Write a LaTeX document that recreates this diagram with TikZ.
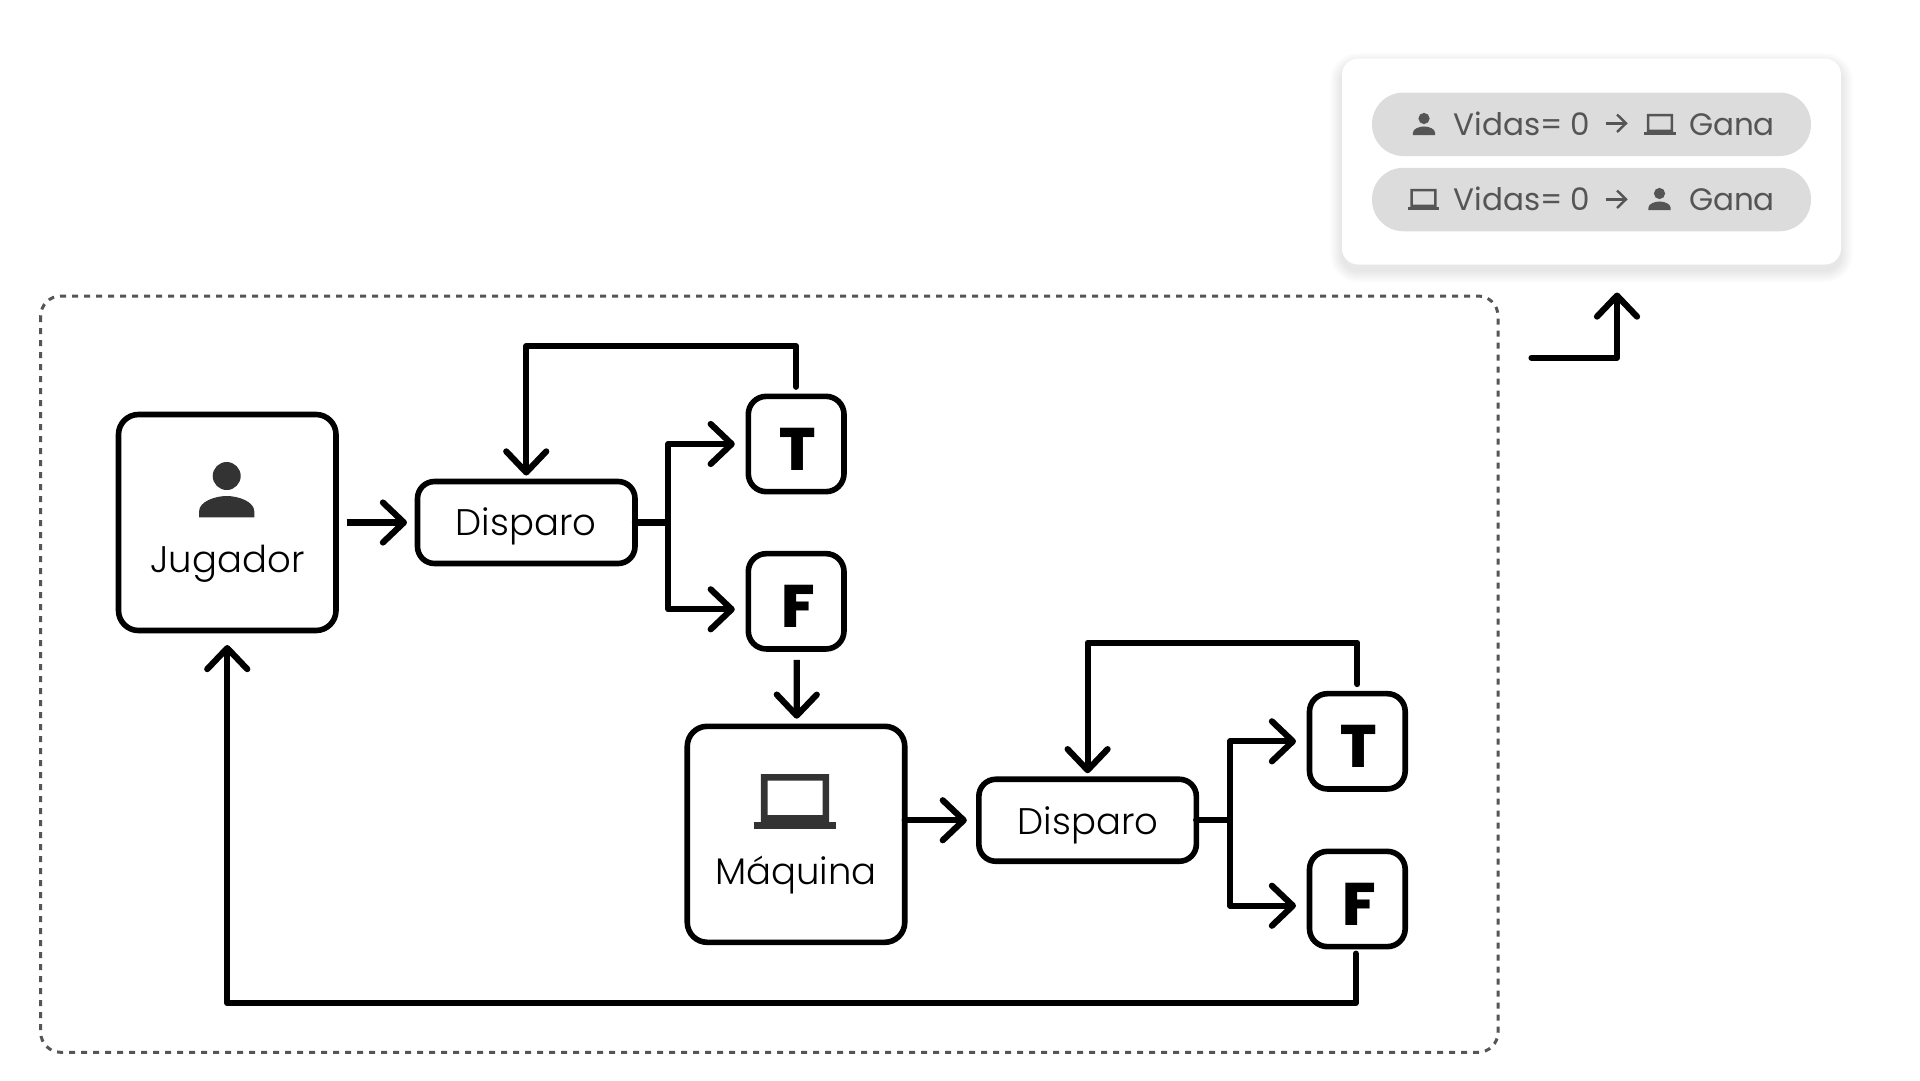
\documentclass[tikz,border=0pt]{standalone}
\usepackage{fontspec}
\newfontfamily\plight{Poppins Light}
\newfontfamily\preg{Poppins}
\newfontfamily\pblack{Poppins ExtraBold}
\usetikzlibrary{arrows.meta}
\definecolor{inkd}{HTML}{333333}
\definecolor{pillc}{HTML}{DCDCDC}
\definecolor{pillt}{HTML}{555555}
\tikzset{
  boxbase/.style={draw=black,line width=5.6pt,fill=white,outer sep=0pt,inner sep=0pt},
  bigbox/.style={boxbase,rounded corners=20pt,minimum width=217.5pt,minimum height=216pt},
  shotbox/.style={boxbase,rounded corners=17pt,minimum width=217.5pt,minimum height=82pt},
  tfbox/.style={boxbase,rounded corners=18pt,minimum width=95.7pt,minimum height=95.3pt},
  conn/.style={draw=black,line width=6.2pt,line cap=round,line join=round,
    -{Straight Barb[length=21pt,width=40pt,line width=6.2pt,round]}},
  lab/.style={anchor=base,inner sep=0pt,outer sep=0pt,font=\plight\fontsize{37}{37}\selectfont,text=black},
  tflab/.style={anchor=base,inner sep=0pt,outer sep=0pt,font=\pblack\fontsize{60}{60}\selectfont,text=black},
  pilltext/.style={anchor=base west,inner sep=0pt,outer sep=0pt,font=\preg\fontsize{31}{32}\selectfont,text=pillt},
  pill/.style={fill=pillc,rounded corners=31.5pt,minimum width=439pt,minimum height=63.5pt,inner sep=0pt,outer sep=0pt},
  pics/personic/.style={code={
    \fill[#1] (0,-41.3) circle (14);
    \fill[#1] (-27.6,0) -- (-27.6,-6) .. controls (-27.6,-15.5) and (-12,-21.3) .. (0,-21.3)
      .. controls (12,-21.3) and (27.6,-15.5) .. (27.6,-6) -- (27.6,0) -- cycle;
  }},
  pics/laptopic/.style={code={
    \fill[#1] (-41,-7.3) rectangle (41,0);
    \fill[#1,even odd rule] (-34.2,-55) rectangle (34.2,-7) (-27.5,-48.3) rectangle (27.5,-14);
  }}
}
\begin{document}
\begin{tikzpicture}[x=1pt,y=-1pt]
\useasboundingbox (0,0) rectangle (1920,1080);
\fill[white] (0,0) rectangle (1920,1080);
% frame
\draw[draw=pillt,line width=3pt,dash pattern=on 6pt off 6pt,rounded corners=20pt] (40.7,296) rectangle (1498,1052.3);
% card shadow
\foreach \s in {1,2,...,12}{
  \fill[black,opacity=0.009,rounded corners=16pt+\s pt] (1342-\s,58.7-\s+6) rectangle (1841+\s,264.5+\s+6);
}
\node[fill=white,rounded corners=16pt,minimum width=499pt,minimum height=205.8pt,inner sep=0pt,outer sep=0pt] (card) at (1591.5,161.6) {};
\node[pill] (pill1) at (1591.5,124.3) {};
\node[pill] (pill2) at (1591.5,199.5) {};
% pill 1 contents
\pic[scale=0.4] at (1424,135) {personic=pillt};
\node[pilltext] (v1) at (1453.5,135) {Vidas= 0};
\draw[pillt,line width=2.4pt] (1605.5,123.3) -- (1626,123.3);
\draw[pillt,line width=2.4pt] (1617,114.5) -- (1626,123.3) -- (1617,132);
\pic[scale=0.385] at (1660,135) {laptopic=pillt};
\node[pilltext] (g1) at (1689,135) {Gana};
% pill 2 contents
\pic[scale=0.385] at (1423.5,210) {laptopic=pillt};
\node[pilltext] (v2) at (1453.5,210) {Vidas= 0};
\draw[pillt,line width=2.4pt] (1605.5,199.3) -- (1626,199.3);
\draw[pillt,line width=2.4pt] (1617,190.5) -- (1626,199.3) -- (1617,208);
\pic[scale=0.4] at (1659.5,210) {personic=pillt};
\node[pilltext] (g2) at (1689,210) {Gana};
% outcome arrow
\coordinate (outa) at (1531.5,357.7);
\coordinate (outb) at (1617,292.5);
\draw[conn] (outa) -| (outb);
% boxes
\node[bigbox] (jug) at (227.25,522.5) {};
\node[shotbox] (d1) at (526.25,522.5) {};
\node[tfbox] (t1) at (796.15,444) {};
\node[tfbox] (f1) at (796.15,601.3) {};
\node[bigbox] (maq) at (796,834.3) {};
\node[shotbox] (d2) at (1087.6,820.25) {};
\node[tfbox] (t2) at (1357.35,741.3) {};
\node[tfbox] (f2) at (1357.35,899) {};
% labels
\pic at (226.7,517.3) {personic=inkd};
\node[lab] (jl) at (227.5,572.7) {Jugador};
\pic at (795,829) {laptopic=inkd};
\node[lab] (ml) at (796,884) {Máquina};
\node[lab] (dl1) at (526,535) {Disparo};
\node[lab] (dl2) at (1088,834.5) {Disparo};
\node[tflab] (tl1) at (797.3,470) {T};
\node[tflab] (fl1) at (798,627.3) {F};
\node[tflab] (tl2) at (1358.3,767.3) {T};
\node[tflab] (fl2) at (1359,925) {F};
% connectors
\draw[conn,line cap=butt,shorten <=10.7pt,shorten >=10.5pt] (jug.east) -- (d1.west);
\draw[conn,shorten <=9.6pt,shorten >=6pt] (t1.north) -- ++(0,-50.3) -| (d1.north);
\draw[conn,shorten >=13.5pt] (d1.east) -- ++(33.3,0) |- (t1.west);
\draw[conn,shorten >=13.5pt] (d1.east) -- ++(33.3,0) |- ([yshift=-8pt]f1.west);
\draw[conn,line cap=butt,shorten <=11pt,shorten >=7.6pt] ([xshift=.7pt]f1.south) -- ([xshift=.7pt]maq.north);
\draw[conn,shorten >=12pt] (maq.east |- d2.west) -- (d2.west);
\draw[conn,shorten <=9.6pt,shorten >=6pt] (t2.north) -- ++(0,-51) -| (d2.north);
\draw[conn,shorten >=13.5pt] (d2.east) -- ++(33.7,0) |- (t2.west);
\draw[conn,shorten >=13.5pt] (d2.east) -- ++(33.7,0) |- ([yshift=-6.7pt]f2.west);
\draw[conn,shorten <=7pt,shorten >=14.5pt] ([xshift=-1.6pt]f2.south) -- ++(0,56.4) -| (jug.south);
\end{tikzpicture}
\end{document}
